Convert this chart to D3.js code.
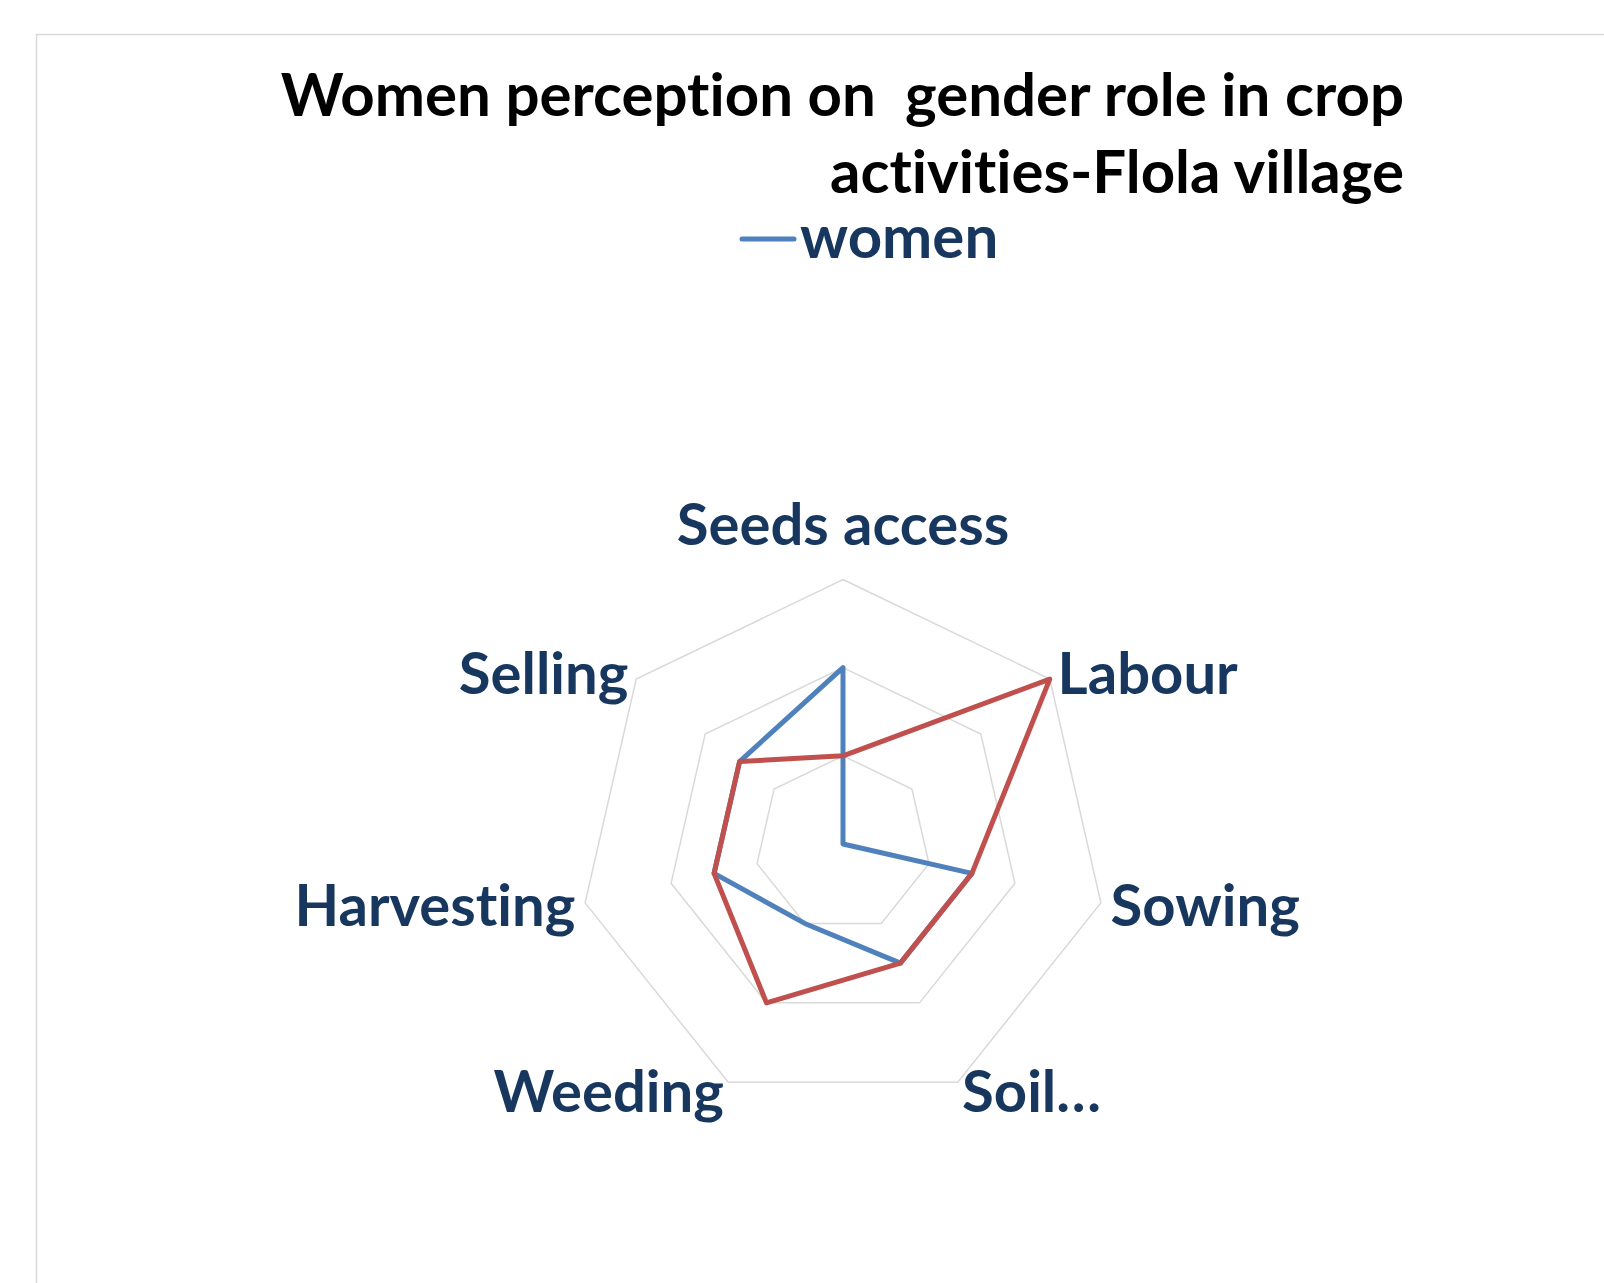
<!DOCTYPE html>
<html>
<head>
<meta charset="utf-8">
<script src="https://cdn.jsdelivr.net/npm/d3@7"></script>
<style>
  html, body { margin: 0; padding: 0; background: #fff; }
  svg { display: block; font-family: Lato, "Open Sans", sans-serif; font-weight: bold; font-variant-ligatures: none; }
  text { white-space: pre; }
</style>
</head>
<body>
<div id="main"></div>
<script>
const categories = ['Seeds access', 'Labour', 'Sowing', 'Soil…', 'Weeding', 'Harvesting', 'Selling'];
const womenValues = [2, 0, 1.5, 1.5, 1, 1.5, 1.5];
const menValues = [1, 3, 1.5, 1.5, 2, 1.5, 1.5];
const ringValues = [1, 2, 3];
const titleLines = ['Women perception on  gender role in crop', 'activities-Flola village'];
const legendLabel = 'women';

function main() {
  const width = 1604;
  const height = 1283;
  const cx = 843;
  const cy = 844;
  const radius = 264.5;
  const labelColor = '#17375E';

  const svg = d3.select('#main')
    .append('svg')
    .attr('width', width)
    .attr('height', height);

  // chart frame, runs off the right and bottom edge
  svg.append('rect')
    .attr('x', 36.5)
    .attr('y', 34.5)
    .attr('width', width)
    .attr('height', height)
    .attr('fill', 'none')
    .attr('stroke', '#D9D9D9')
    .attr('stroke-width', 1.5);

  const angle = d3.scalePoint()
    .domain(categories)
    .range([0, 2 * Math.PI * (categories.length - 1) / categories.length]);

  const rScale = d3.scaleLinear()
    .domain([0, d3.max(ringValues)])
    .range([0, radius]);

  const g = svg.append('g')
    .attr('transform', `translate(${cx}, ${cy})`);

  const ringLine = d3.lineRadial()
    .angle(d => angle(d.cat))
    .radius(d => rScale(d.v))
    .curve(d3.curveLinearClosed);

  g.selectAll('path.ring')
    .data(ringValues)
    .enter()
    .append('path')
    .attr('class', 'ring')
    .attr('d', v => ringLine(categories.map(c => ({ cat: c, v }))))
    .attr('fill', 'none')
    .attr('stroke', '#D9D9D9')
    .attr('stroke-width', 1.5);

  const series = [
    { name: 'women', values: womenValues, color: '#4F81BD' },
    { name: 'men', values: menValues, color: '#C0504D' }
  ];

  g.selectAll('path.series')
    .data(series)
    .enter()
    .append('path')
    .attr('class', 'series')
    .attr('d', s => ringLine(categories.map((c, i) => ({ cat: c, v: s.values[i] }))))
    .attr('fill', 'none')
    .attr('stroke', s => s.color)
    .attr('stroke-width', 5)
    .attr('stroke-linejoin', 'round');

  // category labels outside the outer ring
  const labelR = rScale(d3.max(ringValues)) + 10;
  g.selectAll('text.cat')
    .data(categories)
    .enter()
    .append('text')
    .attr('class', 'cat')
    .attr('x', c => labelR * Math.sin(angle(c)))
    .attr('y', (c) => {
      const y = -labelR * Math.cos(angle(c));
      return angle(c) === 0 ? y - 25 : y + 21;
    })
    .style('text-anchor', (c) => {
      const s = Math.sin(angle(c));
      if (s > 0.1) return 'start';
      if (s < -0.1) return 'end';
      return 'middle';
    })
    .style('font-size', '58px')
    .attr('fill', labelColor)
    .text(c => c);

  // title
  svg.selectAll('text.title')
    .data(titleLines)
    .enter()
    .append('text')
    .attr('class', 'title')
    .attr('x', 1404)
    .attr('y', (d, i) => 116 + i * 77)
    .style('text-anchor', 'end')
    .style('font-size', '60px')
    .attr('fill', '#000')
    .text(d => d);

  // legend
  svg.append('line')
    .attr('x1', 742)
    .attr('x2', 794)
    .attr('y1', 239)
    .attr('y2', 239)
    .attr('stroke', '#4F81BD')
    .attr('stroke-width', 5)
    .attr('stroke-linecap', 'round');

  svg.append('text')
    .attr('x', 800)
    .attr('y', 258)
    .style('font-size', '60px')
    .attr('fill', labelColor)
    .text(legendLabel);
}

document.addEventListener('DOMContentLoaded', main);
</script>
</body>
</html>
